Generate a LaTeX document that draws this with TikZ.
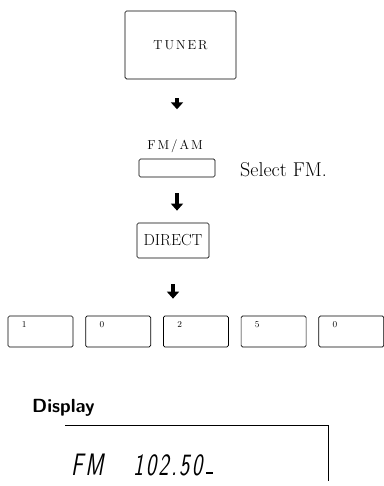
\documentclass[tikz,border=0pt]{standalone}
\usepackage{fontspec}
\newfontfamily\spacedfont{Latin Modern Roman}[LetterSpace=15]
\newfontfamily\lcdfont{Latin Modern Sans}[FakeStretch=0.7,FakeSlant=0.18,LetterSpace=8]
\usetikzlibrary{arrows.meta,positioning}

\begin{document}
\begin{tikzpicture}[x=1pt,y=-1pt,
  btn/.style={draw,line width=0.7pt,rounded corners=1.5pt,inner sep=0pt},
  key/.style={btn,minimum width=65pt,minimum height=31pt},
  keynum/.style={anchor=north west,inner sep=0pt,xshift=14pt,yshift=-6pt,
    font=\fontsize{9}{9}\selectfont},
  captext/.style={font=\spacedfont\fontsize{13}{13}\selectfont},
  arr/.style={-{Triangle[width=12pt,length=7pt]},line width=4pt}]
  \useasboundingbox (0,0) rectangle (383,486);
  % buttons
  \node[btn,minimum width=111pt,minimum height=68pt,captext] (tuner) at (180.5,45) {TUNER};
  \node[captext,inner sep=1pt] (fmlabel) at (175,146) {FM/AM};
  \node[btn,minimum width=76pt,minimum height=18pt] (fmbox) at (177,168) {};
  \node[anchor=base west,inner sep=0pt,font=\fontsize{20}{20}\selectfont] (select) at (240,177) {Select FM.};
  \node[btn,minimum width=72pt,minimum height=35pt,font=\fontsize{16}{16}\selectfont] (direct) at (173,240.5) {DIRECT};
  % number keys
  \node[key,label={[keynum]north west:1}] (k1) at (40.5,331.5) {};
  \node[key,label={[keynum]north west:0},right=12pt of k1] (k2) {};
  \node[key,label={[keynum]north west:2},right=12pt of k2] (k3) {};
  \node[key,label={[keynum]north west:5},right=12pt of k3] (k4) {};
  \node[key,label={[keynum]north west:0},right=12pt of k4] (k5) {};
  \draw[arr,shorten <=19pt,shorten >=29pt] (tuner.south -| fmbox.north) -- (fmlabel.north -| fmbox.north);
  \draw[arr,shorten <=16pt,shorten >=12pt] (fmbox.south) -- (fmbox.south |- direct.north);
  \draw[arr,shorten <=26pt,shorten >=17pt] (direct.south) -- (direct.south |- k3.north);
  % display
  \node[anchor=base west,inner sep=0pt,font=\sffamily\bfseries\fontsize{19}{19}\selectfont] (disp) at (32,412) {Display};
  \draw[line width=0.5pt] (65,425) -| (328,481);
  \node[anchor=base west,inner sep=0pt,font=\lcdfont\fontsize{31}{31}\selectfont] (lcd) at (71,475)
    {FM\hspace{30pt}102.50\hspace{4pt}\rule[1pt]{7pt}{2pt}};
\end{tikzpicture}
\end{document}
